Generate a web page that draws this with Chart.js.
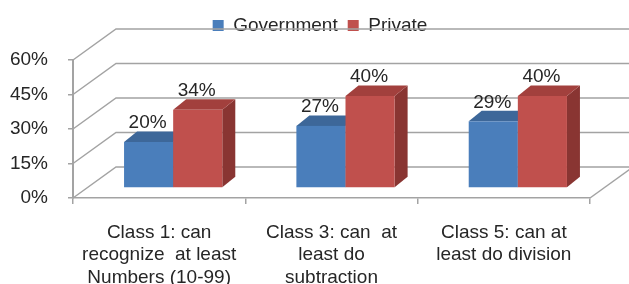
<!DOCTYPE html>
<html>
<head>
<meta charset="utf-8">
<script src="https://cdn.jsdelivr.net/npm/chart.js@4/dist/chart.umd.min.js"></script>
<style>
  html,body{margin:0;padding:0;background:#fff;}
  #wrap{width:629px;height:284px;position:relative;}
</style>
</head>
<body>
<div id="wrap"><canvas id="c" width="629" height="284"></canvas></div>
<script>
// ---- data ----
const categories = [
  ["Class 1: can", "recognize  at least", "Numbers (10-99)"],
  ["Class 3: can  at", "least do", "subtraction"],
  ["Class 5: can at", "least do division"]
];
const seriesNames = ["Government", "Private"];
const governmentValues = [20, 27, 29];
const privateValues = [34, 40, 40];
const yTickMin = 0, yTickMax = 60, yTickStep = 15;

// ---- styles ----
const FONT = '"Liberation Sans", Arial, sans-serif';
const TEXT = '#262626';
const GRID = '#a3a3a3';
const WALL_DX = 43, WALL_DY = -31;   // depth of the 3D walls
const BAR_SX = 14, BAR_SY = -10;     // bars sit back from front plane
const BAR_DX = 13, BAR_DY = -10.5;   // depth of each bar
const faces = [
  {front: '#4a7ebb', top: '#3d6799', side: '#34598a'},
  {front: '#c0504d', top: '#a2403d', side: '#893532'}
];

const wallPlugin = {
  id: 'walls3d',
  afterLayout(chart) {
    if (chart.legend) { chart.legend.left = 11; chart.legend.right = 629; }
  },
  beforeLayout(chart) {
    const lg = chart.legend;
    if (lg && !lg._fixed) {
      const f = lg.fit;
      lg.fit = function() { f.call(this); this.height = 54; };
      lg._fixed = true;
    }
  },
  beforeDatasetsDraw(chart) {
    const ctx = chart.ctx;
    const ys = chart.scales.y;
    const L = chart.chartArea.left, R = chart.chartArea.right;
    const W = chart.width;
    ctx.save();
    ctx.strokeStyle = GRID;
    ctx.lineWidth = 1.5;
    // side wall diagonals + back wall gridlines
    for (let v = yTickMin; v <= yTickMax; v += yTickStep) {
      const y = ys.getPixelForValue(v);
      ctx.beginPath();
      ctx.moveTo(L, y);
      ctx.lineTo(L + WALL_DX, y + WALL_DY);
      ctx.lineTo(W + 5, y + WALL_DY);
      ctx.stroke();
    }
    // floor right edge
    const y0 = ys.getPixelForValue(0);
    ctx.beginPath();
    ctx.moveTo(R, y0);
    ctx.lineTo(R + WALL_DX, y0 + WALL_DY);
    ctx.stroke();
    ctx.restore();

    // 3D bars, drawn category by category so overlaps are correct
    const metas = chart.data.datasets.map((d, i) => chart.getDatasetMeta(i));
    const n = chart.data.labels.length;
    for (let i = 0; i < n; i++) {
      metas.forEach((meta, di) => {
        const el = meta.data[i];
        const p = el.getProps(['x', 'y', 'base', 'width'], true);
        const x0 = p.x - p.width / 2 + BAR_SX, x1 = p.x + p.width / 2 + BAR_SX;
        const yt = p.y + BAR_SY, yb = p.base + BAR_SY;
        const c = faces[di];
        ctx.fillStyle = c.side;
        ctx.beginPath();
        ctx.moveTo(x1, yb); ctx.lineTo(x1 + BAR_DX, yb + BAR_DY);
        ctx.lineTo(x1 + BAR_DX, yt + BAR_DY); ctx.lineTo(x1, yt); ctx.closePath(); ctx.fill();
        ctx.fillStyle = c.top;
        ctx.beginPath();
        ctx.moveTo(x0, yt); ctx.lineTo(x0 + BAR_DX, yt + BAR_DY);
        ctx.lineTo(x1 + BAR_DX, yt + BAR_DY); ctx.lineTo(x1, yt); ctx.closePath(); ctx.fill();
        ctx.fillStyle = c.front;
        ctx.fillRect(x0, yt, x1 - x0, yb - yt);
      });
    }
    // value labels
    ctx.fillStyle = TEXT;
    ctx.font = '19px ' + FONT;
    ctx.textAlign = 'center';
    ctx.textBaseline = 'middle';
    metas.forEach((meta, di) => {
      const vals = chart.data.datasets[di].data;
      meta.data.forEach((el, i) => {
        const p = el.getProps(['x', 'y'], true);
        ctx.fillText(vals[i] + '%', p.x + BAR_SX - 1, p.y + BAR_SY - 19);
      });
    });
    return false;
  }
};

new Chart(document.getElementById('c'), {
  type: 'bar',
  data: {
    labels: categories,
    datasets: [
      {label: seriesNames[0], data: governmentValues, backgroundColor: faces[0].front},
      {label: seriesNames[1], data: privateValues, backgroundColor: faces[1].front}
    ]
  },
  options: {
    responsive: false,
    animation: false,
    devicePixelRatio: 1,
    layout: {padding: {top: 6, right: 39, left: 0, bottom: 0}},
    categoryPercentage: 0.57,
    barPercentage: 1.0,
    plugins: {
      tooltip: {enabled: false},
      legend: {
        position: 'top',
        labels: {boxWidth: 11, boxHeight: 11, padding: 10, color: TEXT, font: {family: FONT, size: 19}}
      }
    },
    scales: {
      x: {
        offset: true,
        grid: {display: true, offset: true, drawOnChartArea: false, drawTicks: true, tickLength: 6, color: GRID, lineWidth: 1.5},
        border: {display: true, color: GRID, width: 1.5},
        ticks: {color: TEXT, font: {family: FONT, size: 19}, padding: 17, maxRotation: 0, minRotation: 0, autoSkip: false},
        afterFit(s) { s.height = 86; }
      },
      y: {
        min: yTickMin, max: yTickMax,
        grid: {display: true, drawOnChartArea: false, drawTicks: true, tickLength: 5, color: GRID, lineWidth: 1.5},
        border: {display: true, color: GRID, width: 2},
        ticks: {stepSize: yTickStep, color: TEXT, font: {family: FONT, size: 19}, padding: 20, callback: v => v + '%'},
        afterFit(s) { s.width = 73; }
      }
    }
  },
  plugins: [wallPlugin]
});
</script>
</body>
</html>
